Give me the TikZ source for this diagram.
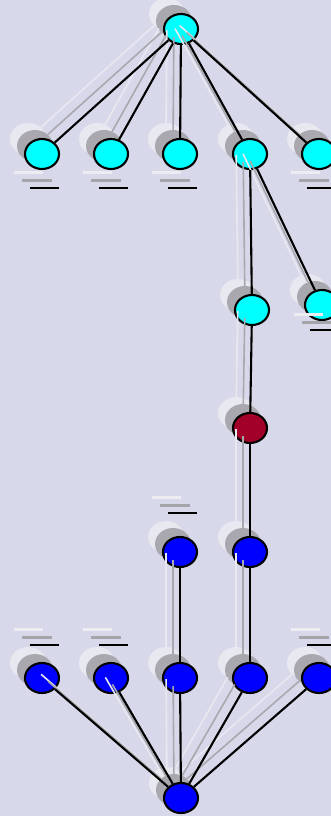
\documentclass[tikz,border=0pt]{standalone}
\usetikzlibrary{shapes.geometric}

\definecolor{bgc}{RGB}{216,216,235}
\definecolor{ghostlight}{RGB}{232,232,240}
\definecolor{ghostmid}{RGB}{168,168,174}
\definecolor{nodecyan}{RGB}{0,255,255}
\definecolor{nodered}{RGB}{162,0,40}
\definecolor{nodeblue}{RGB}{0,0,255}
\definecolor{taglight}{RGB}{236,236,242}
\definecolor{tagdark}{RGB}{165,165,172}

\tikzset{
  vertex/.style={ellipse, draw=black, line width=2.1pt,
    minimum width=34pt, minimum height=30pt, inner sep=0pt},
  ghostfar/.style={ellipse, fill=ghostlight, draw=none,
    minimum width=36pt, minimum height=32pt, inner sep=0pt},
  ghostnear/.style={ellipse, fill=ghostmid, draw=none,
    minimum width=36pt, minimum height=32pt, inner sep=0pt},
  link/.style={line width=2.1pt, draw=black},
  linkfar/.style={line width=1.6pt, draw=ghostlight},
  linknear/.style={line width=1.6pt, draw=ghostmid},
  tag/.pic={
    \draw[taglight, line width=3pt] (-28,0) -- (1,0);
    \draw[tagdark, line width=3pt] (-20,8) -- (10,8);
    \draw[black, line width=2.1pt] (-12,16) -- (17,16);
  }
}

\begin{document}
\begin{tikzpicture}[x=1pt,y=-1pt]
  % canvas
  \fill[bgc] (0,0) rectangle (331,816);
  \useasboundingbox (0,0) rectangle (331,816);

  % node table: name / x / y / fill
  \def\vertices{t/181/29/nodecyan,
    a1/42/154/nodecyan, a2/111/154/nodecyan, a3/180/154/nodecyan,
    a4/250/154/nodecyan, a5/319/154/nodecyan,
    b1/252/310/nodecyan, b2/322/305/nodecyan,
    r/250/428/nodered,
    c1/180/552/nodeblue, c2/250/552/nodeblue,
    d1/42/678/nodeblue, d2/111/678/nodeblue, d3/180/678/nodeblue,
    d4/250/678/nodeblue, d5/319/678/nodeblue,
    z/181/798/nodeblue}
  \def\edges{t/a1, t/a2, t/a3, t/a4, t/a5,
    a4/b1, a4/b2, b1/r, r/c2,
    c1/d3, c2/d4,
    d1/z, d2/z, d3/z, d4/z, d5/z}

  % drop shadows of the vertices
  \foreach \n/\px/\py/\c in \vertices {
    \node[ghostfar] (\n-far) at (\px-14,\py-15) {};
  }
  \foreach \n/\px/\py/\c in \vertices {
    \node[ghostnear] (\n-near) at (\px-7,\py-8) {};
  }

  % vertices
  \foreach \n/\px/\py/\c in \vertices {
    \node[vertex, fill=\c] (\n) at (\px,\py) {};
  }

  % shadows of the connectors
  \foreach \u/\v in \edges {
    \draw[linkfar] (\u-far) -- (\v-far);
  }
  \foreach \u/\v in \edges {
    \draw[linknear] (\u-near) -- (\v-near);
  }

  % connectors
  \foreach \u/\v in \edges {
    \draw[link] (\u) -- (\v);
  }

  % caption marks beside some vertices
  \foreach \px/\py in {42/172, 111/172, 180/172, 319/172,
                       322/314,
                       180/497,
                       42/629, 111/629, 319/629} {
    \pic at (\px,\py) {tag};
  }
\end{tikzpicture}
\end{document}
